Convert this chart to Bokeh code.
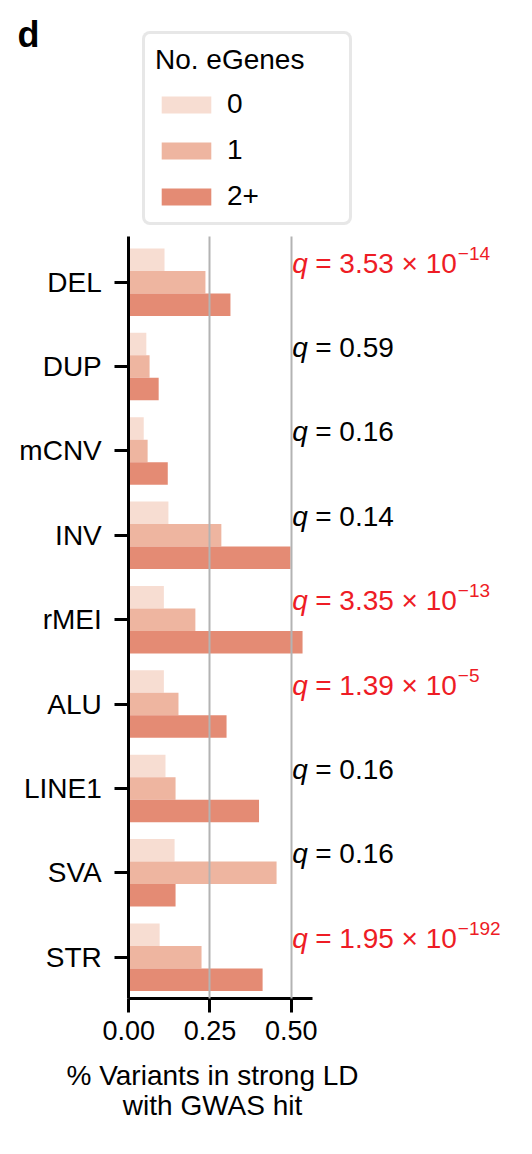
from bokeh.plotting import figure
from bokeh.models import (ColumnDataSource, Range1d, FixedTicker, PrintfTickFormatter,
                          Legend, LegendItem, Label, Grid)
from bokeh.transform import dodge
from bokeh.core.properties import value
from bokeh.embed import file_html
from bokeh.resources import INLINE

# ---------------- data ----------------
categories = ["DEL", "DUP", "mCNV", "INV", "rMEI", "ALU", "LINE1", "SVA", "STR"]
egenes_0 = [0.110, 0.054, 0.046, 0.122, 0.108, 0.108, 0.113, 0.141, 0.095]
egenes_1 = [0.236, 0.064, 0.058, 0.285, 0.205, 0.153, 0.144, 0.455, 0.224]
egenes_2plus = [0.313, 0.092, 0.120, 0.498, 0.535, 0.301, 0.401, 0.144, 0.412]
series_labels = ["0", "1", "2+"]
q_mantissa = ["3.53 × 10", "0.59", "0.16", "0.14", "3.35 × 10",
              "1.39 × 10", "0.16", "0.16", "1.95 × 10"]
q_exponent = ["−14", "", "", "", "−13", "−5", "", "", "−192"]
q_significant = [True, False, False, False, True, True, False, False, True]
x_ticks = [0.0, 0.25, 0.50]
x_axis_max = 0.565
x_title_lines = ["% Variants in strong LD", "with GWAS hit"]
legend_title = "No. eGenes"
panel_letter = "d"

# ---------------- style ----------------
FONT = "Liberation Sans"
FS = "28px"
FS_PX = 28
COLORS = ["#f7ddd2", "#eeb5a0", "#e48b74"]
RED = "#ee1c25"
W, H = 532, 1150
n = len(categories)
bar_h = 0.8 / 3
y_lo, y_hi = -0.537, n - 1 + 0.489

# Arial / Liberation Sans advance widths (em) for the characters used in q texts
ADV = {"=": 0.584, " ": 0.278, ".": 0.278, "×": 0.584}
ADV.update({d: 0.556 for d in "0123456789"})


def text_w(s, size):
    return sum(ADV.get(ch, 0.556) for ch in s) * size


p = figure(width=W, height=H, output_backend="svg", toolbar_location=None,
           x_range=Range1d(-0.395, 1.243), y_range=Range1d(10.291, -3.339),
           min_border=0, min_border_left=0, min_border_right=0,
           min_border_top=0, min_border_bottom=0)
p.outline_line_color = None
p.background_fill_color = "white"
p.border_fill_color = "white"

src = ColumnDataSource(dict(idx=list(range(n)), cat=categories,
                            s0=egenes_0, s1=egenes_1, s2=egenes_2plus))
renderers = []
for k, col in enumerate(["s0", "s1", "s2"]):
    r = p.hbar(y=dodge("idx", (k - 1) * bar_h), left=0, right=col, height=bar_h,
               source=src, fill_color=COLORS[k], line_color=None)
    renderers.append(r)

# axes (drawn at fixed data locations)
xa = p.xaxis[0]
xa.ticker = FixedTicker(ticks=x_ticks)
xa.formatter = PrintfTickFormatter(format="%.2f")
xa.bounds = (0, x_axis_max)
xa.fixed_location = y_hi
xa.major_label_text_font_size = "27px"
xa.major_label_standoff = 9
ya = p.yaxis[0]
ya.ticker = FixedTicker(ticks=list(range(n)))
ya.major_label_overrides = {i: c for i, c in enumerate(categories)}
ya.bounds = (y_lo, y_hi)
ya.fixed_location = 0
ya.major_label_text_font_size = FS
ya.major_label_standoff = 13
for ax in (xa, ya):
    ax.axis_line_width = 3
    ax.axis_line_color = "black"
    ax.major_tick_line_width = 3
    ax.major_tick_line_color = "black"
    ax.major_tick_out = 14
    ax.major_tick_in = 0
    ax.minor_tick_line_color = None
    ax.major_label_text_font = FONT
    ax.major_label_text_color = "black"

# grid
p.ygrid.visible = False
g = p.xgrid[0]
g.ticker = FixedTicker(ticks=[t for t in x_ticks if t > 0])
g.grid_line_color = "#b3b3b3"
g.grid_line_width = 2
g.level = "annotation"
if "cross_bounds" in Grid.properties():
    g.cross_bounds = (y_lo, y_hi)

# q annotations
q_colors = [RED if s else "black" for s in q_significant]
rest = ["= " + m for m in q_mantissa]
qsrc = ColumnDataSource(dict(
    x=[x_ticks[-1]] * n,
    y=[i - 0.225 for i in range(n)],
    q=["q"] * n,
    rest=rest,
    exp=q_exponent,
    exp_off=[24 + text_w(s, FS_PX) + 1 for s in rest],
    color=q_colors))
p.text(x="x", y="y", text="q", source=qsrc, text_font=value(FONT),
       text_font_style="italic", text_font_size=FS, text_color="color",
       text_baseline="middle", x_offset=1)
p.text(x="x", y="y", text="rest", source=qsrc, text_font=value(FONT),
       text_font_size=FS, text_color="color", text_baseline="middle", x_offset=24)
p.text(x="x", y="y", text="exp", source=qsrc, text_font=value(FONT),
       text_font_size="19px", text_color="color", text_baseline="middle",
       x_offset="exp_off", y_offset=-10)

# legend
legend = Legend(items=[LegendItem(label=l, renderers=[r]) for l, r in zip(series_labels, renderers)],
                location=(142, 925), padding=10,
                title=legend_title, title_text_font=FONT, title_text_font_size=FS,
                title_text_font_style="normal", title_text_color="black", title_standoff=12,
                label_text_font=FONT, label_text_font_size=FS, label_text_color="black",
                glyph_width=62, glyph_height=21, label_standoff=10, label_width=112,
                spacing=14, border_line_color="#d0d0d0", border_line_width=3,
                background_fill_color="white", background_fill_alpha=1.0)
if "border_radius" in Legend.properties():
    legend.border_radius = 8
p.add_layout(legend)

# panel letter and x-axis title
p.add_layout(Label(x=17, y=H - 34, x_units="screen", y_units="screen", text=panel_letter,
                   text_font=FONT, text_font_style="bold", text_font_size="36px",
                   text_color="black", text_baseline="middle", text_align="left"))
xc = x_axis_max / 2
for j, line in enumerate(x_title_lines):
    p.add_layout(Label(x=xc, y=H - 1075 - 30 * j, x_units="data", y_units="screen",
                       x_offset=-8, text=line, text_color="black",
                       text_font=FONT, text_font_size=FS, text_baseline="middle",
                       text_align="center"))

open("out.html", "w").write(file_html(p, INLINE))
